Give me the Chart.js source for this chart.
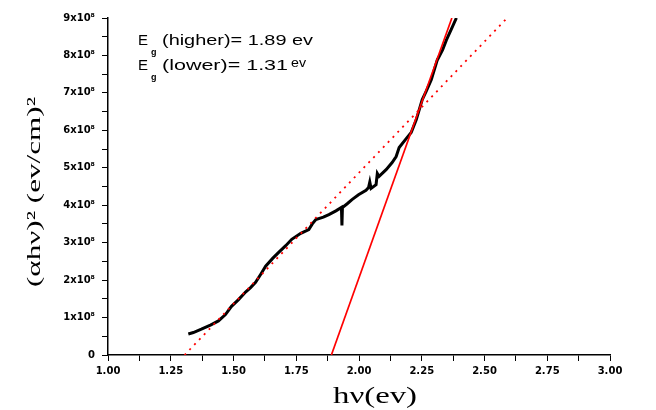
<!DOCTYPE html>
<html>
<head>
<meta charset="utf-8">
<script src="https://cdn.jsdelivr.net/npm/chart.js@4.4.0/dist/chart.umd.min.js"></script>
<style>
  html, body { margin: 0; padding: 0; background: #fff; }
  #wrap { width: 656px; height: 410px; position: relative; }
</style>
</head>
<body>
<div id="wrap"><canvas id="grafico"></canvas></div>
<script>
// energia do foton (eV) e (alpha h nu)^2
const energia = [1.320, 1.340, 1.372, 1.408, 1.440, 1.468, 1.492, 1.520, 1.548, 1.568, 1.588, 1.608,
  1.628, 1.656, 1.680, 1.708, 1.732, 1.768, 1.800, 1.814, 1.828, 1.858, 1.880, 1.908, 1.930, 1.932, 1.934,
  1.953, 1.972, 1.998, 2.028, 2.038, 2.043, 2.048, 2.068, 2.073, 2.080, 2.108, 2.132, 2.148, 2.160,
  2.188, 2.208, 2.228, 2.252, 2.268, 2.288, 2.312, 2.333, 2.348, 2.368, 2.388];
const absorcao = [0.56, 0.60, 0.69, 0.80, 0.91, 1.08, 1.30, 1.48, 1.68, 1.80, 1.94, 2.15,
  2.37, 2.58, 2.74, 2.92, 3.09, 3.25, 3.35, 3.50, 3.62, 3.68, 3.75, 3.85, 3.94, 3.46, 3.94,
  4.04, 4.15, 4.28, 4.40, 4.47, 4.62, 4.45, 4.55, 4.85, 4.77, 4.95, 5.14, 5.30, 5.54,
  5.78, 5.94, 6.28, 6.82, 7.05, 7.35, 7.88, 8.15, 8.41, 8.70, 9.00].map(v => v * 1e8);

// retas de extrapolacao (Eg)
const retaMaiorX = [1.89, 2.37];
const retaMaiorY = [0, 9e8];
const retaMenorX = [1.305, 2.59];
const retaMenorY = [0, 9e8];

const xRotulos = ['1.00', '1.25', '1.50', '1.75', '2.00', '2.25', '2.50', '2.75', '3.00'];
const yRotulos = ['0', '1x10⁸', '2x10⁸', '3x10⁸', '4x10⁸', '5x10⁸', '6x10⁸', '7x10⁸', '8x10⁸', '9x10⁸'];

function pontos(xs, ys) {
  return xs.map((x, i) => ({ x: x, y: ys[i] }));
}

function textoLargo(c, str, x, y, largura) {
  const w = c.measureText(str).width;
  c.save();
  c.translate(x, y);
  c.scale(largura / w, 1);
  c.fillText(str, 0, 0);
  c.restore();
}

const textos = {
  id: 'textos',
  afterDraw(chart) {
    const c = chart.ctx;
    c.save();
    c.fillStyle = '#000';
    c.textBaseline = 'alphabetic';
    c.textAlign = 'left';

    // titulo eixo x
    c.font = '23px "Liberation Serif"';
    textoLargo(c, 'hν(ev)', 333, 403, 84);

    // titulo eixo y
    c.save();
    c.translate(40, 287);
    c.rotate(-Math.PI / 2);
    c.font = '19px "Liberation Serif"';
    textoLargo(c, '(αhν)² (ev/cm)²', 0, 0, 190);
    c.restore();

    // anotacoes
    c.font = '15px "Liberation Sans"';
    c.fillText('E', 138, 45);
    c.fillText('E', 138, 70);
    c.font = 'bold 9px "Liberation Sans"';
    c.fillText('g', 151, 55);
    c.fillText('g', 151, 80);
    c.font = '15px "Liberation Sans"';
    textoLargo(c, '(higher)= 1.89 ev', 162, 45, 151);
    textoLargo(c, '(lower)= 1.31', 162, 70, 126);
    c.font = '13px "Liberation Sans"';
    textoLargo(c, 'ev', 291, 67, 15);
    c.restore();
  }
};

const ctx = document.getElementById('grafico').getContext('2d');
new Chart(ctx, {
  type: 'scatter',
  data: {
    datasets: [{
      label: 'curva',
      data: pontos(energia, absorcao),
      showLine: true,
      borderColor: '#000',
      borderWidth: 3,
      pointRadius: 0,
      tension: 0,
      order: 2
    }, {
      label: 'Eg maior',
      data: pontos(retaMaiorX, retaMaiorY),
      showLine: true,
      borderColor: '#ff0000',
      borderWidth: 1.7,
      pointRadius: 0,
      order: 1
    }, {
      label: 'Eg menor',
      data: pontos(retaMenorX, retaMenorY),
      showLine: true,
      borderColor: '#ff0000',
      borderWidth: 1.8,
      borderDash: [2, 5],
      pointRadius: 0,
      order: 1
    }]
  },
  options: {
    responsive: true,
    maintainAspectRatio: false,
    animation: false,
    layout: { padding: { top: 18, right: 46, left: 0, bottom: 0 } },
    plugins: { legend: { display: false }, tooltip: { enabled: false } },
    scales: {
      x: {
        type: 'linear',
        min: 1, max: 3,
        afterFit: s => { s.height = 55; },
        border: { color: '#000', width: 1.5 },
        grid: { drawOnChartArea: false, drawTicks: true, tickLength: 6, color: '#000' },
        ticks: {
          stepSize: 0.125,
          autoSkip: false,
          maxRotation: 0,
          padding: 4,
          color: '#000',
          font: { family: 'DejaVu Sans', size: 10, weight: 'bold' },
          callback: v => {
            const i = Math.round((v - 1) * 4);
            return Math.abs((v - 1) * 4 - i) < 1e-6 ? xRotulos[i] : '';
          }
        }
      },
      y: {
        min: 0, max: 9e8,
        afterFit: s => { s.width = 108; },
        border: { color: '#000', width: 1.5 },
        grid: { drawOnChartArea: false, drawTicks: true, tickLength: 6, color: '#000' },
        ticks: {
          stepSize: 0.5e8,
          autoSkip: false,
          padding: 7,
          color: '#000',
          font: { family: 'DejaVu Sans', size: 10, weight: 'bold' },
          callback: v => {
            const i = Math.round(v / 1e8);
            return Math.abs(v / 1e8 - i) < 1e-6 ? yRotulos[i] : '';
          }
        }
      }
    }
  },
  plugins: [textos]
});
</script>
</body>
</html>
